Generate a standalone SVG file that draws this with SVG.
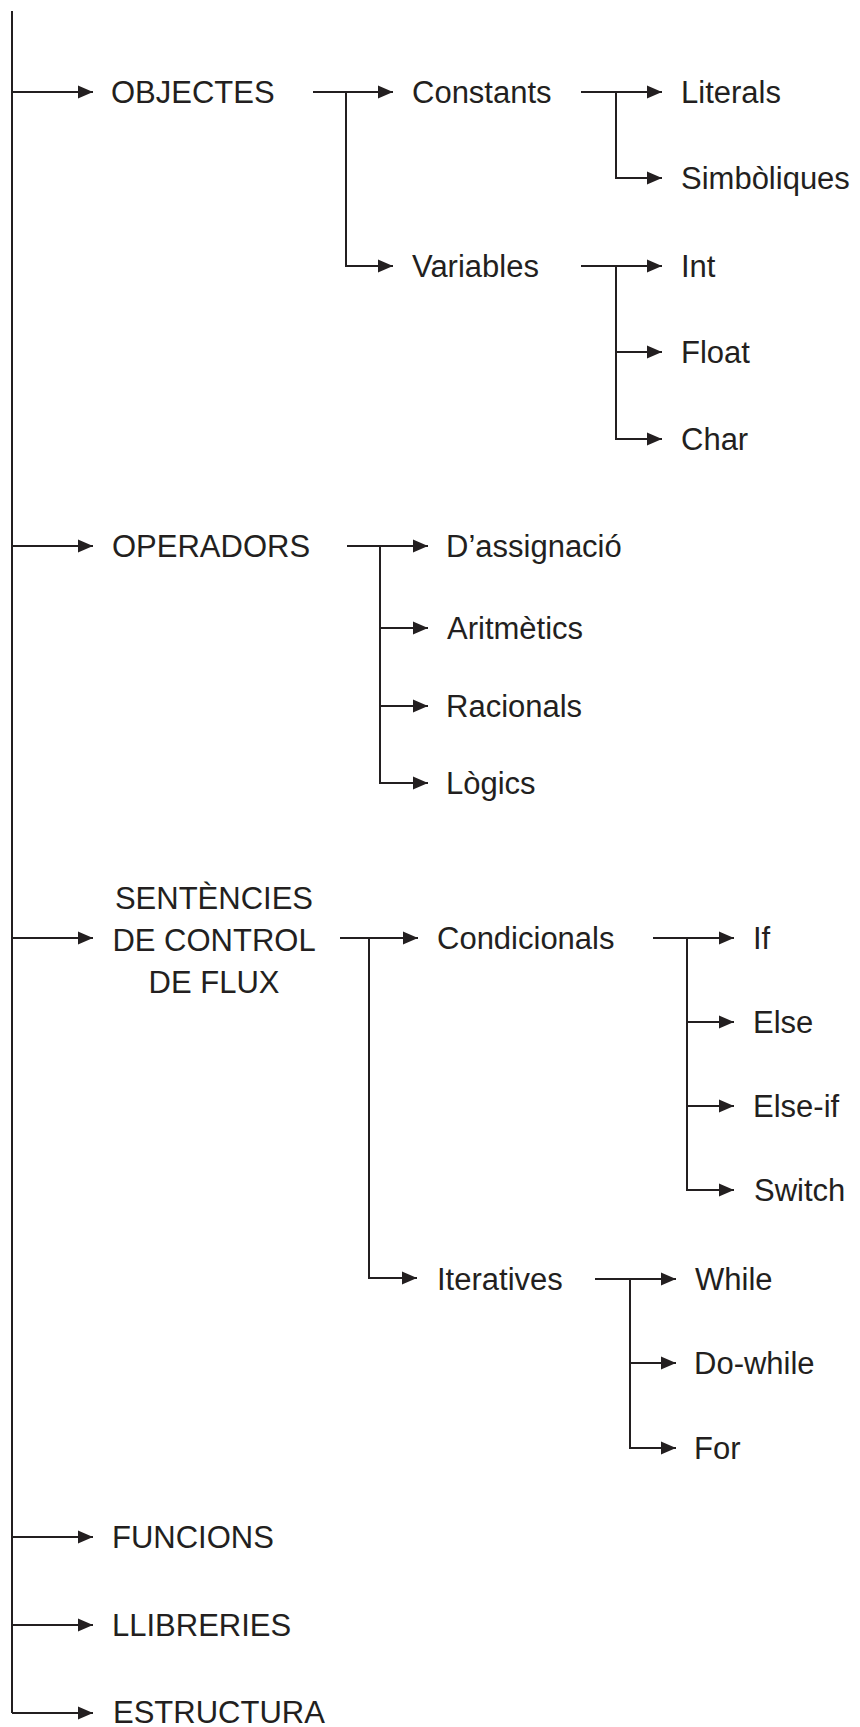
<svg xmlns="http://www.w3.org/2000/svg" width="860" height="1727" viewBox="0 0 860 1727">
<style>
.t{font-family:"Liberation Sans",Arial,sans-serif;font-size:31px;fill:#231f20}
.c{text-anchor:middle}
.l{fill:none;stroke:#231f20;stroke-width:2}
.a{marker-end:url(#ah)}
</style>
<defs>
<marker id="ah" markerUnits="userSpaceOnUse" markerWidth="16" markerHeight="14" refX="15" refY="7" orient="auto">
<path d="M0,0.5 L15,7 L0,13.5 z" fill="#231f20"/>
</marker>
</defs>
<rect width="860" height="1727" fill="#fff"/>
<g id="connectors">
<path class="l" d="M12,11 V1713"/>
<path class="l a" d="M12,92 H93"/>
<path class="l a" d="M12,546 H93"/>
<path class="l a" d="M12,938 H93"/>
<path class="l a" d="M12,1537 H93"/>
<path class="l a" d="M12,1625 H93"/>
<path class="l a" d="M12,1713 H93"/>
<path class="l a" d="M313,92 H393"/>
<path class="l a" d="M346,92 V266 H393"/>
<path class="l a" d="M581,92 H662"/>
<path class="l a" d="M616,92 V178 H662"/>
<path class="l a" d="M581,266 H662"/>
<path class="l a" d="M616,266 V439 H662"/>
<path class="l a" d="M616,352 H662"/>
<path class="l a" d="M347,546 H428"/>
<path class="l a" d="M380,546 V783 H428"/>
<path class="l a" d="M380,628 H428"/>
<path class="l a" d="M380,706 H428"/>
<path class="l a" d="M340,938 H418"/>
<path class="l a" d="M369,938 V1278 H417"/>
<path class="l a" d="M653,938 H734"/>
<path class="l a" d="M687,938 V1190 H734"/>
<path class="l a" d="M687,1022 H734"/>
<path class="l a" d="M687,1106 H734"/>
<path class="l a" d="M595,1279 H676"/>
<path class="l a" d="M630,1279 V1448 H676"/>
<path class="l a" d="M630,1363 H676"/>
</g>
<g id="objectes"><text class="t" x="111" y="103">OBJECTES</text></g>
<g id="constants"><text class="t" x="412" y="103">Constants</text></g>
<g id="variables"><text class="t" x="412" y="277">Variables</text></g>
<g id="literals"><text class="t" x="681" y="103">Literals</text></g>
<g id="simboliques"><text class="t" x="681" y="189">Simbòliques</text></g>
<g id="int"><text class="t" x="681" y="277">Int</text></g>
<g id="float"><text class="t" x="681" y="363">Float</text></g>
<g id="char"><text class="t" x="681" y="450">Char</text></g>
<g id="operadors"><text class="t" x="112" y="557">OPERADORS</text></g>
<g id="dassignacio"><text class="t" x="446" y="557">D’assignació</text></g>
<g id="aritmetics"><text class="t" x="447" y="639">Aritmètics</text></g>
<g id="racionals"><text class="t" x="446" y="717">Racionals</text></g>
<g id="logics"><text class="t" x="446" y="794">Lògics</text></g>
<g id="sentencies"><text class="t c" x="214" y="909">SENTÈNCIES</text><text class="t c" x="214" y="951">DE CONTROL</text><text class="t c" x="214" y="993">DE FLUX</text></g>
<g id="condicionals"><text class="t" x="437" y="949">Condicionals</text></g>
<g id="if"><text class="t" x="753" y="949">If</text></g>
<g id="else"><text class="t" x="753" y="1033">Else</text></g>
<g id="elseif"><text class="t" x="753" y="1117">Else-if</text></g>
<g id="switch"><text class="t" x="754" y="1201">Switch</text></g>
<g id="iteratives"><text class="t" x="437" y="1290">Iteratives</text></g>
<g id="while"><text class="t" x="695" y="1290">While</text></g>
<g id="dowhile"><text class="t" x="694" y="1374">Do-while</text></g>
<g id="for"><text class="t" x="694" y="1459">For</text></g>
<g id="funcions"><text class="t" x="112" y="1548">FUNCIONS</text></g>
<g id="llibreries"><text class="t" x="112" y="1636">LLIBRERIES</text></g>
<g id="estructura"><text class="t" x="113" y="1723">ESTRUCTURA</text></g>
</svg>
